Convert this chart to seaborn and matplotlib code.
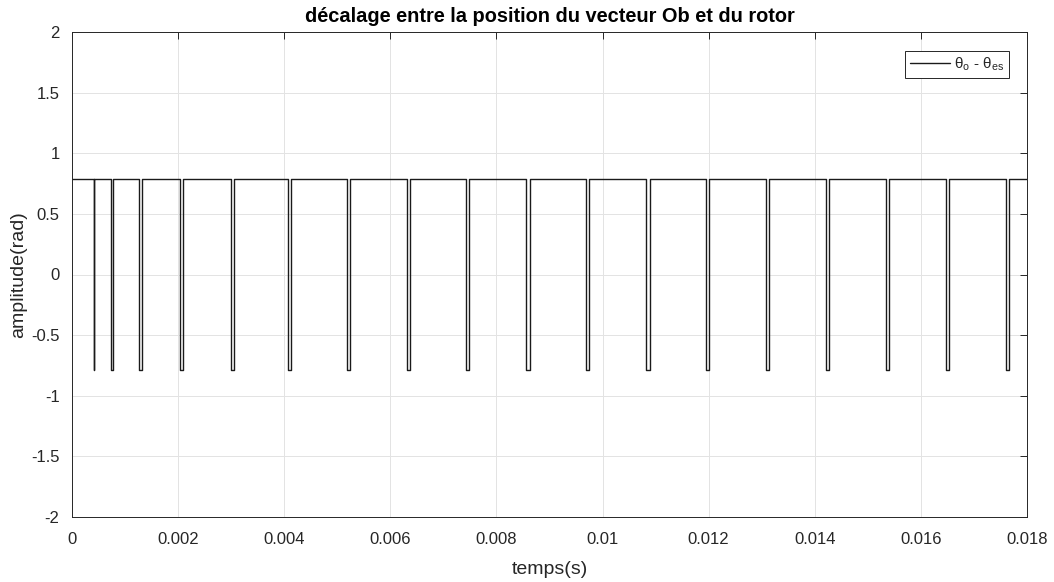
import numpy as np
import pandas as pd
import matplotlib
matplotlib.use("Agg")
import matplotlib.pyplot as plt
import seaborn as sns

# Pulse centres (s), widths (s) and the two levels of the offset signal
pulse_centres = [0.000414, 0.000748, 0.001288, 0.002066, 0.003032, 0.004105,
                 0.005217, 0.006335, 0.007458, 0.008595, 0.009718, 0.010855,
                 0.011985, 0.013108, 0.014245, 0.015367, 0.016497, 0.017627]
pulse_widths = [0.000015, 0.00004] + [0.00006] * 16
level_high = 0.785
level_low = -0.785
t_end = 0.018

x_ticks = [0, 0.002, 0.004, 0.006, 0.008, 0.01, 0.012, 0.014, 0.016, 0.018]
x_labels = ["0", "0.002", "0.004", "0.006", "0.008", "0.01", "0.012",
            "0.014", "0.016", "0.018"]
y_ticks = [-2, -1.5, -1, -0.5, 0, 0.5, 1, 1.5, 2]
y_labels = ["-2", "-1.5", "-1", "-0.5", "0", "0.5", "1", "1.5", "2"]

# Build the rectangular waveform from the pulse edges
t, v = [0.0], [level_high]
for c, w in zip(pulse_centres, pulse_widths):
    a, b = c - w / 2, c + w / 2
    t += [a, a, b, b]
    v += [level_high, level_low, level_low, level_high]
t.append(t_end)
v.append(level_high)
df = pd.DataFrame({"t": t, "v": v})

sns.set_theme(style="whitegrid")
plt.rcParams["font.family"] = ["Liberation Sans", "DejaVu Sans"]
plt.rcParams["mathtext.fontset"] = "custom"
plt.rcParams["mathtext.rm"] = "Liberation Sans"

fig = plt.figure(figsize=(10.54, 5.82), dpi=100)
ax = fig.add_axes([72 / 1054, 1 - 517 / 582, (1027 - 72) / 1054, (517 - 32) / 582])

sns.lineplot(data=df, x="t", y="v", sort=False, estimator=None, ax=ax,
             color="#1a1a1a", linewidth=1.0,
             label="θ$_{\\mathrm{o}}$ - θ$_{\\mathrm{es}}$")

ax.set_xlim(0, t_end)
ax.set_ylim(-2, 2)
ax.set_xticks(x_ticks)
ax.set_xticklabels(x_labels)
ax.set_yticks(y_ticks)
ax.set_yticklabels(y_labels)

ax.grid(True, color="#e3e3e3", linewidth=0.7)
ax.set_facecolor("white")
for s in ax.spines.values():
    s.set_color("#262626")
    s.set_linewidth(0.7)
ax.tick_params(axis="both", direction="in", length=5, width=0.7,
               color="#262626", top=True, right=True, labelsize=12,
               labelcolor="#262626")
ax.tick_params(axis="x", pad=11)
ax.tick_params(axis="y", pad=9)

ax.set_xlabel("temps(s)", fontsize=14, color="#262626", labelpad=10)
ax.set_ylabel("amplitude(rad)", fontsize=14, color="#262626", labelpad=3)
ax.set_title("décalage entre la position du vecteur Ob et du rotor",
             fontsize=14.4, fontweight="bold", color="black", pad=7)

leg = ax.legend(loc="upper right", bbox_to_anchor=(0.981, 0.961),
                fontsize=11, frameon=True, fancybox=False,
                handlelength=2.6, handletextpad=0.3, borderpad=0.3,
                borderaxespad=0)
leg.get_frame().set_edgecolor("#262626")
leg.get_frame().set_linewidth(0.7)
leg.get_frame().set_alpha(1)

fig.savefig("out.png", dpi=100)
